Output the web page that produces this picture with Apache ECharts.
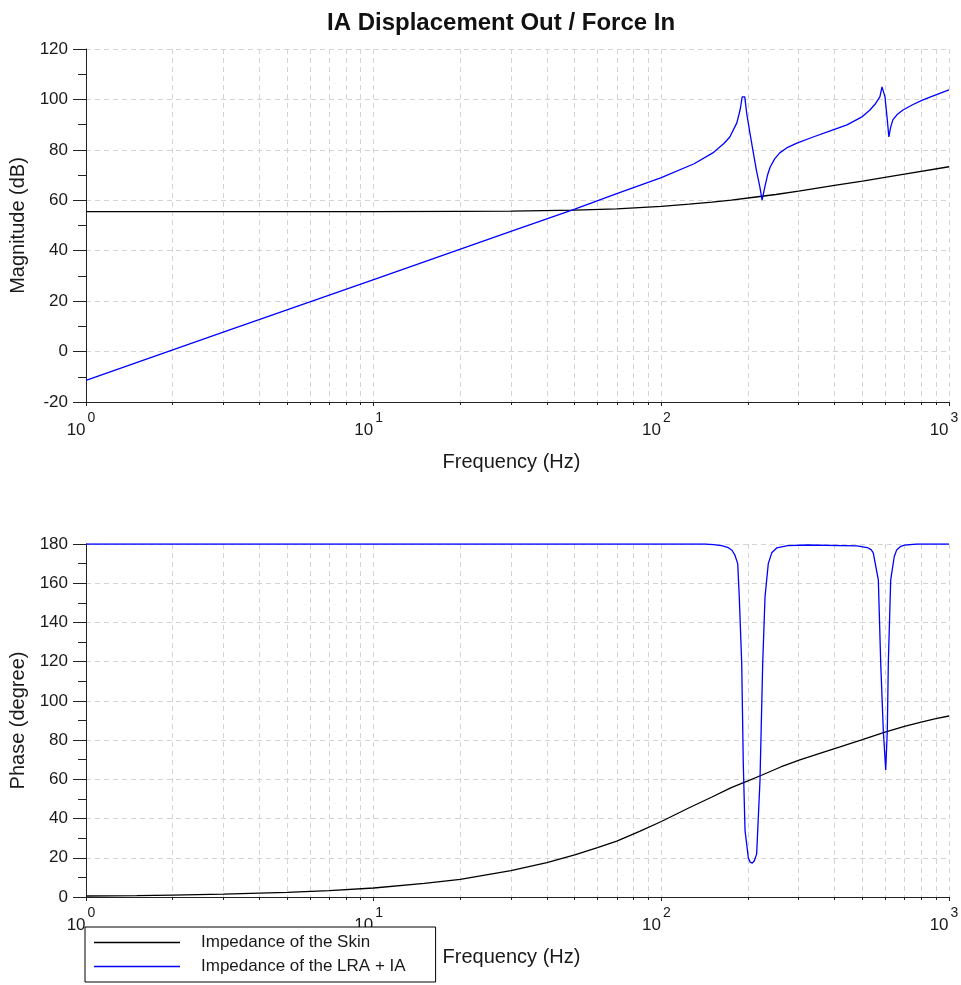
<!DOCTYPE html>
<html><head><meta charset="utf-8">
<script src="https://cdn.jsdelivr.net/npm/echarts@6/dist/echarts.min.js"></script>
<style>html,body{margin:0;padding:0;background:#fff}#c{width:961px;height:985px}</style>
</head><body><div id="c"></div>
<script>
// ---- data ----
const magSkinFreq = [1, 2, 5, 10, 20, 30, 50, 70, 100, 125, 150, 175, 200, 250, 300, 400, 500, 700, 1000];
const magSkinDb   = [55.5, 55.5, 55.5, 55.5, 55.6, 55.7, 56.1, 56.6, 57.6, 58.5, 59.3, 60.1, 60.9, 62.3, 63.6, 65.9, 67.6, 70.4, 73.3];

const magLraFreq = [1, 3, 10, 30, 50, 70, 100, 130, 151, 165, 173, 183, 188, 191, 195, 198, 203, 208, 214, 220,
                    224, 229, 234, 239, 248, 258, 275, 296, 337, 380, 442, 500, 531, 555, 575, 585, 592, 599, 609, 618,
                    627, 638, 660, 692, 750, 812, 900, 1000];
const magLraDb   = [-11.4, 7.7, 28.5, 47.7, 56.5, 62.6, 69.0, 74.5, 78.8, 82.5, 85.1, 90.7, 96, 101, 101, 94.6, 87, 80, 72, 65.3,
                    60.1, 65.3, 70, 73.2, 76.5, 78.8, 81, 82.7, 85.1, 87.2, 89.9, 93.2, 95.8, 98.3, 101, 105, 103, 101, 93, 85.1,
                    89, 91.9, 94, 95.8, 98, 99.8, 101.8, 103.8];

const phSkinFreq = [1, 1.5, 2, 3, 5, 7, 10, 15, 20, 30, 40, 50, 60, 70, 84, 100, 125, 150, 175, 200,
                    224, 260, 303, 360, 418, 500, 599, 700, 800, 900, 1000];
const phSkinDeg  = [0.5, 0.7, 1.0, 1.5, 2.4, 3.3, 4.6, 6.9, 9.0, 13.5, 17.5, 21.5, 25.2, 28.5, 33.5, 38.5, 45.5, 51, 55.8, 59.2,
                    62.2, 66.3, 69.9, 73.5, 76.5, 80.2, 84.1, 87, 89.2, 90.9, 92.3];

const phLraFreq = [1, 100, 142, 152, 162, 170, 176, 180, 184.3, 186.6, 190.3, 192.7, 195.4, 200.6, 203.5, 207.1, 210.5, 214.5, 220.3, 225.1,
                   229.3, 235.4, 242, 251.8, 275, 321, 479, 520, 537, 545.6, 568, 579, 591, 602.6, 610.3, 615.2, 627.1, 645, 657.9, 680,
                   700, 774, 1000];
const phLraDeg  = [180, 180, 180, 179.7, 179.2, 178.3, 176.8, 174.5, 170, 153, 119, 68, 34, 20, 17.8, 17.3, 18.5, 22, 59.7, 119,
                   153, 170, 175.5, 178, 179.2, 179.5, 179, 178.2, 177, 175.4, 161.7, 119, 85, 64.8, 85, 119, 161.7, 173.5, 177, 178.8,
                   179.4, 180, 180];

const magTicks = [-20, 0, 20, 40, 60, 80, 100, 120];
const phaseTicks = [0, 20, 40, 60, 80, 100, 120, 140, 160, 180];
const freqDecades = [1, 10, 100, 1000];

const titleText = 'IA Displacement Out / Force In';
const xName = 'Frequency (Hz)';
const magName = 'Magnitude (dB)';
const phName = 'Phase (degree)';
const skinName = 'Impedance of the Skin';
const lraName = 'Impedance of the LRA + IA';

// ---- chart ----
const FONT = '"Liberation Sans", Arial, sans-serif';
const TXT = '#1a1a1a';
const GRIDC = '#d4d4d4';
const zip = (a, b) => a.map((v, i) => [v, b[i]]);

function xAxis(gi) {
  return {
    type: 'log', logBase: 10, gridIndex: gi,
    min: freqDecades[0], max: freqDecades[freqDecades.length - 1],
    name: xName, nameLocation: 'middle', nameGap: 50,
    nameTextStyle: { fontFamily: FONT, fontSize: 20, color: TXT, padding: [0, 12, 0, 0] },
    axisLine: { show: true, onZero: false, lineStyle: { color: '#222', width: 1 } },
    axisTick: { show: true, length: 4, lineStyle: { color: '#222' } },
    minorTick: { show: true, splitNumber: 9, length: 3, lineStyle: { color: '#222' } },
    splitLine: { show: true, lineStyle: { color: GRIDC, type: [5, 4], width: 1 } },
    minorSplitLine: { show: true, lineStyle: { color: GRIDC, type: [5, 4], width: 1 } },
    axisLabel: {
      show: true, margin: 9, showMinLabel: true, showMaxLabel: true,
      formatter: v => '{b|10}{e|' + Math.round(Math.log10(v)) + '}{s|}',
      rich: {
        b: { fontFamily: FONT, fontSize: 17, color: TXT, lineHeight: 28, verticalAlign: 'bottom' },
        e: { fontFamily: FONT, fontSize: 14, color: TXT, lineHeight: 28, verticalAlign: 'top', padding: [0, 0, 0, 2] },
        s: { width: 10, lineHeight: 28 }
      }
    }
  };
}
function yAxis(gi, ticks, name) {
  return {
    type: 'value', gridIndex: gi, min: ticks[0], max: ticks[ticks.length - 1], interval: ticks[1] - ticks[0],
    name: name, nameLocation: 'middle', nameGap: 58, nameRotate: 90,
    nameTextStyle: { fontFamily: FONT, fontSize: 20, color: TXT },
    axisLine: { show: true, onZero: false, lineStyle: { color: '#222', width: 1 } },
    axisTick: { show: true, length: 13, lineStyle: { color: '#222' } },
    minorTick: { show: true, splitNumber: 2, length: 8, lineStyle: { color: '#222' } },
    splitLine: { show: true, lineStyle: { color: GRIDC, type: [5, 4], width: 1 } },
    axisLabel: { margin: 18, fontFamily: FONT, fontSize: 17, color: TXT, showMinLabel: true, showMaxLabel: true }
  };
}
function line(name, data, xi, color) {
  return {
    name: name, type: 'line', xAxisIndex: xi, yAxisIndex: xi, data: data,
    symbol: 'none', smooth: false, sampling: 'none',
    lineStyle: { color: color, width: 1.3 }, itemStyle: { color: color }, z: 3
  };
}

const chart = echarts.init(document.getElementById('c'), null, { renderer: 'canvas' });
chart.setOption({
  animation: false,
  backgroundColor: '#fff',
  title: { text: titleText, left: 322, top: 6,
    textStyle: { fontFamily: FONT, fontSize: 24, fontWeight: 'bold', color: '#111' } },
  grid: [
    { left: 86, right: 12, top: 49, height: 353, containLabel: false, outerBoundsMode: 'none' },
    { left: 86, right: 12, top: 544, height: 353, containLabel: false, outerBoundsMode: 'none' }
  ],
  xAxis: [xAxis(0), xAxis(1)],
  yAxis: [yAxis(0, magTicks, magName), yAxis(1, phaseTicks, phName)],
  legend: {
    show: true, orient: 'vertical', left: 85, top: 927,
    backgroundColor: '#fff', borderColor: '#000', borderWidth: 1, borderRadius: 0,
    padding: [7, 30, 7, 9], itemGap: 7, itemWidth: 86, itemHeight: 1.5, icon: 'rect',
    textStyle: { fontFamily: FONT, fontSize: 17, color: TXT, padding: [0, 0, 0, 16], lineHeight: 17 },
    data: [skinName, lraName], z: 10
  },
  series: [
    line(skinName, zip(magSkinFreq, magSkinDb), 0, '#000000'),
    line(lraName, zip(magLraFreq, magLraDb), 0, '#0000ff'),
    line(skinName, zip(phSkinFreq, phSkinDeg), 1, '#000000'),
    line(lraName, zip(phLraFreq, phLraDeg), 1, '#0000ff')
  ]
});
</script></body></html>
